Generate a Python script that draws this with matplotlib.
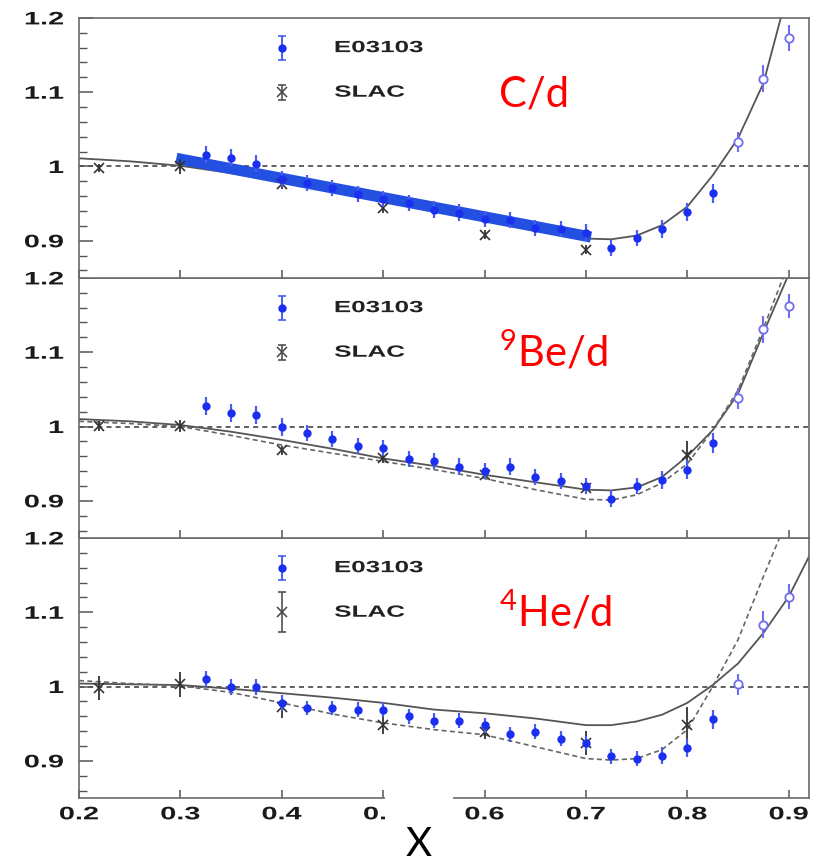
import numpy as np
import matplotlib
matplotlib.use('Agg')
from matplotlib import pyplot as plt
from matplotlib.patheffects import AbstractPathEffect
from matplotlib.transforms import Affine2D
from matplotlib.patches import Rectangle

# E03103 points (filled) and the high-x points (open)
x_e = [0.325, 0.35, 0.375, 0.40, 0.425, 0.45, 0.475, 0.50, 0.525, 0.55, 0.575,
       0.60, 0.625, 0.65, 0.675, 0.70, 0.725, 0.75, 0.775, 0.80, 0.825]
x_open = [0.85, 0.875, 0.90]

c_e = [1.016, 1.012, 1.004, 0.983, 0.978, 0.971, 0.963, 0.956, 0.951, 0.942, 0.938,
       0.929, 0.928, 0.917, 0.916, 0.911, 0.890, 0.904, 0.916, 0.939, 0.964]
c_e_err = [0.011, 0.011, 0.011, 0.011, 0.011, 0.011, 0.011, 0.011, 0.011, 0.011, 0.011,
           0.011, 0.011, 0.011, 0.011, 0.011, 0.011, 0.011, 0.012, 0.012, 0.013]
c_open = [1.033, 1.118, 1.173]
c_open_err = [0.014, 0.018, 0.017]

be_e = [1.028, 1.018, 1.015, 0.999, 0.991, 0.983, 0.974, 0.971, 0.956, 0.954, 0.946,
        0.940, 0.946, 0.932, 0.927, 0.920, 0.903, 0.920, 0.928, 0.942, 0.978]
be_e_err = [0.012, 0.012, 0.012, 0.012, 0.011, 0.011, 0.011, 0.011, 0.011, 0.011, 0.011,
            0.011, 0.011, 0.011, 0.011, 0.011, 0.011, 0.011, 0.012, 0.013, 0.013]
be_open = [1.038, 1.131, 1.162]
be_open_err = [0.014, 0.018, 0.016]

he_e = [1.010, 0.999, 0.999, 0.978, 0.971, 0.971, 0.969, 0.969, 0.960, 0.954, 0.954,
        0.948, 0.936, 0.939, 0.930, 0.924, 0.906, 0.903, 0.907, 0.917, 0.956]
he_e_err = [0.011, 0.011, 0.011, 0.011, 0.010, 0.010, 0.010, 0.010, 0.010, 0.010, 0.010,
            0.010, 0.010, 0.010, 0.010, 0.010, 0.010, 0.010, 0.011, 0.012, 0.013]
he_open = [1.003, 1.083, 1.121]
he_open_err = [0.014, 0.018, 0.017]

# SLAC points
c_slac_x = [0.22, 0.30, 0.40, 0.50, 0.60, 0.70]
c_slac = [0.998, 1.000, 0.977, 0.944, 0.908, 0.888]
c_slac_err = [0.006, 0.010, 0.007, 0.007, 0.006, 0.006]

slac_x = [0.22, 0.30, 0.40, 0.50, 0.60, 0.70, 0.80]
be_slac = [1.001, 1.001, 0.968, 0.957, 0.935, 0.917, 0.962]
be_slac_err = [0.007, 0.008, 0.006, 0.006, 0.006, 0.008, 0.018]
he_slac = [0.998, 1.003, 0.973, 0.948, 0.939, 0.924, 0.948]
he_slac_err = [0.016, 0.017, 0.016, 0.012, 0.010, 0.016, 0.024]

# model curves
curve_x = [0.20, 0.25, 0.30, 0.35, 0.40, 0.45, 0.50, 0.55, 0.60, 0.65, 0.70,
           0.725, 0.75, 0.775, 0.80, 0.825, 0.85, 0.875, 0.90, 0.92]
c_solid = [1.011, 1.007, 1.001, 0.991, 0.979, 0.967, 0.954, 0.941, 0.928, 0.915, 0.903,
           0.902, 0.907, 0.921, 0.946, 0.988, 1.038, 1.112, 1.24, 1.34]
be_solid = [1.010, 1.007, 1.002, 0.993, 0.982, 0.970, 0.957, 0.947, 0.935, 0.925, 0.915,
            0.914, 0.918, 0.932, 0.960, 0.995, 1.044, 1.126, 1.205, 1.30]
be_dashed = [1.007, 1.004, 1.000, 0.988, 0.975, 0.964, 0.953, 0.942, 0.930, 0.915, 0.902,
             0.901, 0.908, 0.924, 0.950, 0.995, 1.049, 1.132, 1.22, 1.32]
he_solid = [1.004, 1.003, 1.002, 0.997, 0.991, 0.985, 0.978, 0.969, 0.964, 0.957, 0.948,
            0.948, 0.953, 0.962, 0.978, 1.002, 1.031, 1.072, 1.121, 1.175]
he_dashed = [1.008, 1.004, 1.001, 0.992, 0.978, 0.963, 0.951, 0.942, 0.935, 0.919, 0.903,
             0.901, 0.903, 0.915, 0.942, 1.000, 1.063, 1.148, 1.23, 1.40]

# hand-drawn linear fit on the carbon panel
fit_x = [0.296, 0.705]
fit_y = [1.011, 0.905]

x_ticks = [0.2, 0.3, 0.4, 0.5, 0.6, 0.7, 0.8, 0.9]
y_ticks = [0.9, 1.0, 1.1, 1.2]
labels = ['C/d', r'$\mathregular{^{9}Be/d}$', r'$\mathregular{^{4}He/d}$']

BLUE = '#1a2ff0'
BLUE_ERR = '#4a5cf2'
OPEN = '#6e6ef0'
ROOT_FONT = 'Liberation Sans'


class Widen(AbstractPathEffect):
    """Draw text stretched horizontally about its left/centre/right edge."""

    def __init__(self, sx, anchor='left'):
        super().__init__()
        self.sx = sx
        self.anchor = anchor

    def draw_path(self, renderer, gc, tpath, affine, rgbFace=None):
        ext = tpath.get_extents()
        x0 = {'left': ext.x0, 'center': 0.5 * (ext.x0 + ext.x1),
              'right': ext.x1}[self.anchor]
        t = Affine2D().translate(-x0, 0).scale(self.sx, 1).translate(x0, 0)
        renderer.draw_path(gc, tpath, t + affine, rgbFace)


def draw_panel(ax, e, e_err, e_o, e_o_err, sx, s, s_err, solid, dashed, label, slac_leg_err):
    ax.axhline(1.0, color='#444444', lw=1.2, ls=(0, (3, 2.5)), zorder=1)
    ax.plot(curve_x, solid, color='#555555', lw=1.3, zorder=2)
    if dashed is not None:
        ax.plot(curve_x, dashed, color='#666666', lw=1.2, ls=(0, (3, 2)), zorder=2)

    ax.errorbar(sx, s, yerr=s_err, fmt='x', ms=6.5, mew=1.2, color='#333333',
                ecolor='#333333', elinewidth=1.3, capsize=0, zorder=4)
    ax.errorbar(x_e, e, yerr=e_err, fmt='o', ms=5, color=BLUE, ecolor=BLUE_ERR,
                elinewidth=1.6, capsize=0, zorder=5)
    ax.errorbar(x_open, e_o, yerr=e_o_err, fmt='o', ms=6, mfc='white', mec=OPEN,
                mew=1.3, ecolor=OPEN, elinewidth=1.5, capsize=0, zorder=5)

    # legend, drawn ROOT-style
    ax.errorbar([0.4], [1.16], yerr=[0.016], fmt='o', ms=5, color=BLUE, ecolor=BLUE_ERR,
                elinewidth=1.4, capsize=3, capthick=1.2, zorder=5)
    ax.errorbar([0.4], [1.10], yerr=[slac_leg_err], fmt='x', ms=6.5, mew=1.1, color='#444444',
                elinewidth=1.1, capsize=3, capthick=1.1, zorder=5)
    for y, txt in [(1.16, 'E03103'), (1.10, 'SLAC')]:
        ax.text(0.452, y, txt, fontsize=11.7, fontweight='bold', family=ROOT_FONT,
                color='#222222', va='center', ha='left',
                path_effects=[Widen(1.6, 'left')])

    ax.text(0.575, 0.66, label, transform=ax.transAxes, color='red', fontsize=30,
            family='Lato', va='baseline', ha='left')

    ax.set_xlim(0.2, 0.92)
    ax.set_ylim(0.85, 1.2)
    ax.set_yticks(y_ticks)
    ax.set_yticklabels(['%g' % v for v in y_ticks])
    ax.set_yticks(np.arange(0.86, 1.2, 0.02), minor=True)
    ax.set_xticks(x_ticks)
    ax.tick_params(axis='y', which='major', direction='in', length=10, width=1.1,
                   color='#555555', pad=11, labelsize=13, right=False)
    ax.tick_params(axis='y', which='minor', direction='in', length=5.5, width=1.0,
                   color='#555555', right=False)
    ax.tick_params(axis='x', which='major', direction='in', length=6, width=1.1,
                   color='#555555', pad=6, labelsize=13, top=False)
    for sp in ax.spines.values():
        sp.set_color('#6a6a6a')
        sp.set_linewidth(1.2)


def main():
    fig = plt.figure(figsize=(8.23, 8.65), dpi=100)
    left, width, h = 0.096, 0.887, 0.3006
    ax3 = fig.add_axes([left, 0.0775, width, h])
    ax2 = fig.add_axes([left, 0.0775 + h, width, h], sharex=ax3)
    ax1 = fig.add_axes([left, 0.0775 + 2 * h, width, h], sharex=ax3)

    draw_panel(ax1, c_e, c_e_err, c_open, c_open_err, c_slac_x, c_slac, c_slac_err,
               c_solid, None, labels[0], 0.010)
    ax1.plot(fit_x, fit_y, color='#2350e0', lw=8, solid_capstyle='butt', zorder=3)
    draw_panel(ax2, be_e, be_e_err, be_open, be_open_err, slac_x, be_slac, be_slac_err,
               be_solid, be_dashed, labels[1], 0.010)
    draw_panel(ax3, he_e, he_e_err, he_open, he_open_err, slac_x, he_slac, he_slac_err,
               he_solid, he_dashed, labels[2], 0.027)

    for ax in (ax1, ax2):
        ax.tick_params(axis='x', labelbottom=False)
    ax3.set_xticklabels(['%g' % v for v in x_ticks])

    for ax in (ax1, ax2, ax3):
        for lab in ax.get_yticklabels():
            lab.set_fontfamily(ROOT_FONT)
            lab.set_fontweight('bold')
            lab.set_color('#1a1a1a')
            lab.set_path_effects([Widen(1.6, 'right')])
    for lab in ax3.get_xticklabels():
        lab.set_fontfamily(ROOT_FONT)
        lab.set_fontweight('bold')
        lab.set_color('#1a1a1a')
        lab.set_path_effects([Widen(1.6, 'center')])

    # blank patch under the axis title
    fig.patches.append(Rectangle((0.4678, 0.0), 0.0826, 0.081, transform=fig.transFigure,
                                 facecolor='white', edgecolor='none', zorder=5))
    fig.text(0.509, 0.002, 'X', fontsize=29, family='Lato', color='black',
             ha='center', va='bottom', zorder=6)

    fig.savefig('out.png', dpi=100, facecolor='white')


if __name__ == "__main__":
    main()
